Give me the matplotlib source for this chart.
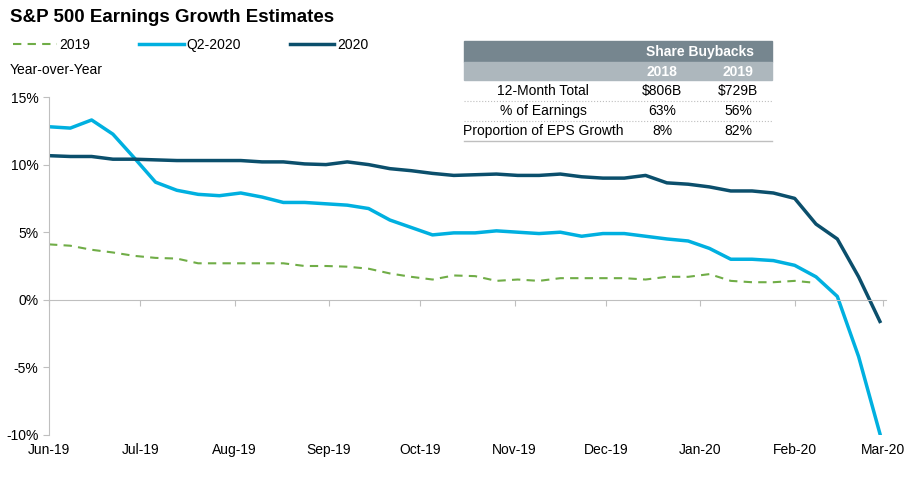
import numpy as np
import pandas as pd
import matplotlib
matplotlib.use("Agg")
import matplotlib.pyplot as plt
from matplotlib.patches import Rectangle

plt.rcParams["font.family"] = ["Liberation Sans Narrow", "Liberation Sans", "DejaVu Sans"]

dates = pd.date_range("2019-06-01", periods=40, freq="7D")

est2020 = [10.66, 10.6, 10.6, 10.4, 10.4, 10.35, 10.3, 10.3, 10.3, 10.3,
           10.2, 10.2, 10.05, 10.0, 10.2, 10.0, 9.7, 9.55, 9.35, 9.2,
           9.25, 9.3, 9.2, 9.2, 9.3, 9.1, 9.0, 9.0, 9.2, 8.65,
           8.55, 8.35, 8.05, 8.05, 7.9, 7.5, 5.6, 4.5, 1.7, -1.6]
estQ2 = [12.8, 12.7, 13.3, 12.25, 10.5, 8.7, 8.1, 7.8, 7.7, 7.9,
         7.6, 7.2, 7.2, 7.1, 7.0, 6.75, 5.9, 5.35, 4.8, 4.95,
         4.95, 5.1, 5.0, 4.9, 5.0, 4.7, 4.9, 4.9, 4.7, 4.5,
         4.35, 3.8, 3.0, 3.0, 2.9, 2.55, 1.7, 0.25, -4.2, -9.9]
est2019 = [4.1, 4.0, 3.7, 3.5, 3.25, 3.1, 3.05, 2.7, 2.7, 2.7,
           2.7, 2.7, 2.5, 2.5, 2.45, 2.3, 1.95, 1.7, 1.5, 1.8,
           1.75, 1.4, 1.5, 1.4, 1.6, 1.6, 1.6, 1.6, 1.5, 1.7,
           1.7, 1.9, 1.4, 1.3, 1.3, 1.4, 1.25]

month_ticks = pd.date_range("2019-06-01", "2020-03-01", freq="MS")
month_labels = [d.strftime("%b-%y") for d in month_ticks]

table_rows = ["12-Month Total", "% of Earnings", "Proportion of EPS Growth"]
buyback_2018 = ["$806B", "63%", "8%"]
buyback_2019 = ["$729B", "56%", "82%"]

fig = plt.figure(figsize=(9.16, 4.82), dpi=100)
ax = fig.add_axes([49 / 916, 1 - 435 / 482, (886 - 49) / 916, (435 - 97) / 482])

ax.plot(dates[:len(est2019)], est2019, color="#70AD47", lw=1.5, ls=(0, (4, 3)), label="2019")
ax.plot(dates, estQ2, color="#00B0E0", lw=2.5, label="Q2-2020")
ax.plot(dates, est2020, color="#0B4F6C", lw=2.5, label="2020")

ax.set_ylim(-10, 15)
ax.set_xlim(month_ticks[0], month_ticks[-1] + pd.Timedelta(days=1))
ax.set_yticks([-10, -5, 0, 5, 10, 15])
ax.set_yticklabels(["-10%", "-5%", "0%", "5%", "10%", "15%"], fontsize=10)
ax.set_xticks(month_ticks)
ax.tick_params(axis="x", labelbottom=False, length=4, color="#bfbfbf", direction="out")
ax.tick_params(axis="y", length=4, color="#bfbfbf", direction="out")
for s in ["top", "right"]:
    ax.spines[s].set_visible(False)
ax.spines["bottom"].set_position(("data", 0))
ax.spines["bottom"].set_color("#bfbfbf")
ax.spines["left"].set_color("#bfbfbf")
for d, lab in zip(month_ticks, month_labels):
    ax.text(d, -10.6, lab, ha="center", va="top", fontsize=10)

fig.text(10 / 916, 1 - 18 / 482, "S&P 500 Earnings Growth Estimates", fontsize=13.5,
         fontweight="bold", va="center")
fig.text(10 / 916, 1 - 70 / 482, "Year-over-Year", fontsize=10, va="center")
fig.legend(loc="center left", bbox_to_anchor=(0.0, 1 - 45 / 482), ncol=3, frameon=False,
           fontsize=10, handlelength=3.2, columnspacing=3.5, handletextpad=0.2)

# buyback table
W, H = 916, 482
def box(x0, y0, x1, y1, color):
    fig.patches.append(Rectangle((x0 / W, 1 - y1 / H), (x1 - x0) / W, (y1 - y0) / H,
                                 transform=fig.transFigure, color=color, zorder=0))

box(464, 41, 772, 62, "#76868F")
box(464, 62, 772, 80, "#ADB7BD")
fig.text(700 / W, 1 - 52 / H, "Share Buybacks", color="white", fontweight="bold",
         fontsize=10, ha="center", va="center")
fig.text(662 / W, 1 - 72 / H, "2018", color="white", fontweight="bold", fontsize=10,
         ha="center", va="center")
fig.text(738 / W, 1 - 72 / H, "2019", color="white", fontweight="bold", fontsize=10,
         ha="center", va="center")
for i, (r, a, b) in enumerate(zip(table_rows, buyback_2018, buyback_2019)):
    yc = 91 + 20 * i
    fig.text(543 / W, 1 - yc / H, r, fontsize=10, ha="center", va="center")
    fig.text(662 / W, 1 - yc / H, a, fontsize=10, ha="center", va="center")
    fig.text(738 / W, 1 - yc / H, b, fontsize=10, ha="center", va="center")
    yl = 1 - (yc + 10) / H
    fig.add_artist(plt.Line2D([464 / W, 772 / W], [yl, yl], transform=fig.transFigure,
                              color="#bfbfbf", lw=1 if i == 2 else 0.8,
                              ls="-" if i == 2 else ":"))

fig.savefig("out.png", dpi=100)
